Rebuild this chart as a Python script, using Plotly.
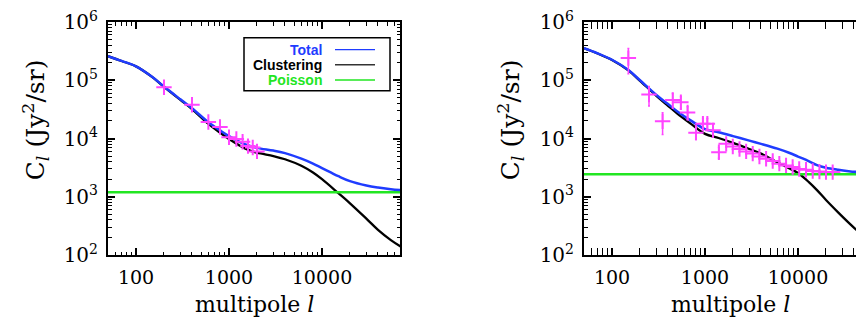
import numpy as np
import plotly.graph_objects as go

# ---------------- data ----------------
# Panel 1
ell_model_1 = [50, 70, 100, 150, 200, 300, 400, 600, 800, 1000, 1500, 2000, 3000, 4000,
               6000, 8000, 10000, 15000, 20000, 30000, 40000, 55000, 70000]
total_1 = [2.6e5, 2.15e5, 1.74e5, 1.14e5, 7.8e4, 4.7e4, 3.3e4, 1.9e4, 1.38e4, 1.1e4, 7.9e3, 6.9e3,
           6.2e3, 5.6e3, 4.5e3, 3.7e3, 3.1e3, 2.25e3, 1.85e3, 1.56e3, 1.44e3, 1.35e3, 1.3e3]
clustering_1 = [2.59e5, 2.14e5, 1.73e5, 1.13e5, 7.7e4, 4.6e4, 3.2e4, 1.78e4, 1.26e4, 9.8e3, 6.7e3,
                5.7e3, 5.0e3, 4.4e3, 3.4e3, 2.6e3, 2.0e3, 1.15e3, 770, 420, 270, 180, 140]
poisson_1 = 1.19e3
ell_data_1 = [200, 400, 600, 800, 1000, 1200, 1400, 1600, 1800, 2000]
cl_data_1 = [7.6e4, 3.8e4, 1.92e4, 1.58e4, 1.05e4, 9.8e3, 8.8e3, 7.4e3, 7.0e3, 6.0e3]

# Panel 2
ell_model_2 = [50, 70, 100, 150, 200, 300, 400, 500, 700, 1000, 1400, 2000, 3000, 4000, 6000,
               8000, 10000, 13000, 16000, 20000, 27000, 35000, 45000, 55000, 70000]
total_2 = [3.55e5, 2.9e5, 2.25e5, 1.5e5, 1.0e5, 5.6e4, 3.9e4, 2.95e4, 2.05e4, 1.45e4, 1.28e4,
           1.1e4, 9.2e3, 8.1e3, 6.7e3, 5.7e3, 4.9e3, 4.1e3, 3.5e3, 3.15e3, 2.9e3, 2.75e3,
           2.65e3, 2.6e3, 2.57e3]
clustering_2 = [3.53e5, 2.88e5, 2.23e5, 1.48e5, 9.8e4, 5.4e4, 3.65e4, 2.7e4, 1.8e4, 1.2e4,
                1.02e4, 8.4e3, 6.6e3, 5.5e3, 3.9e3, 3.1e3, 2.55e3, 1.8e3, 1.3e3, 880, 540,
                360, 250, 200, 150]
poisson_2 = 2.43e3
ell_data_2 = [150, 250, 350, 450, 550, 650, 800, 950, 1060, 1220, 1410,
              1690, 1990, 2350, 2770, 3260, 3850, 4540, 5350, 6300, 7440, 8760,
              10300, 12200, 14400, 17000, 20000, 23600]
cl_data_2 = [2.4e5, 5.7e4, 1.97e4, 4.6e4, 4.2e4, 2.8e4, 1.26e4, 1.8e4, 1.8e4, 1.38e4, 5.8e3,
             8.1e3, 7.3e3, 6.6e3, 6.0e3, 5.5e3, 4.9e3, 4.5e3, 4.1e3, 3.7e3, 3.45e3, 3.25e3,
             3.0e3, 2.9e3, 2.77e3, 2.7e3, 2.65e3, 2.65e3]
err_data_2 = [1.1e5, 2.1e4, 8e3, 1.3e4, 1.0e4, 7e3, 3e3, 4e3, 4e3, 3e3, 1.2e3,
              1.0e3, 8e2, 7e2, 6e2, 5e2, 4e2, 3.5e2, 3e2, 2.5e2, 2.2e2, 2e2,
              1.8e2, 1.6e2, 1.5e2, 1.4e2, 1.4e2, 1.4e2]

x_ticks = [100, 1000, 10000]
x_ticktext = ["100", "1000", "10000"]
y_ticks = [1e2, 1e3, 1e4, 1e5, 1e6]
y_ticktext = ["10<sup>2</sup>", "10<sup>3</sup>", "10<sup>4</sup>", "10<sup>5</sup>", "10<sup>6</sup>"]
legend_labels = ["Total", "Clustering", "Poisson"]

# ---------------- style ----------------
BLUE = "#1f3cff"
BLACK = "#000000"
GREEN = "#22e622"
MAGENTA = "#ff44ff"
SERIF = "DejaVu Serif"

W, H = 864, 320
ML, MR, MT, MB = 100, 0, 10, 73
PW = W - ML - MR
PH = H - MT - MB


def px(xp):
    return (xp - ML) / PW


def py(yp):
    return (H - MB - yp) / PH


fig = go.Figure()


def add_panel(xa, ya, ell, tot, clu, poi, ed, cd, err):
    fig.add_trace(go.Scatter(x=ell, y=clu, mode="lines", line=dict(color=BLACK, width=2.3, shape="spline"),
                             xaxis=xa, yaxis=ya, showlegend=False))
    fig.add_trace(go.Scatter(x=[ell[0], ell[-1]], y=[poi, poi], mode="lines",
                             line=dict(color=GREEN, width=2.5), xaxis=xa, yaxis=ya, showlegend=False))
    fig.add_trace(go.Scatter(x=ell, y=tot, mode="lines", line=dict(color=BLUE, width=2.5, shape="spline"),
                             xaxis=xa, yaxis=ya, showlegend=False))
    kw = {}
    if err is not None:
        kw["error_y"] = dict(type="data", array=err, color=MAGENTA, thickness=1.5, width=1)
    fig.add_trace(go.Scatter(x=ed, y=cd, mode="markers",
                             marker=dict(symbol="cross-thin", size=11, line=dict(color=MAGENTA, width=2)),
                             xaxis=xa, yaxis=ya, showlegend=False, **kw))


add_panel("x", "y", ell_model_1, total_1, clustering_1, poisson_1, ell_data_1, cl_data_1, None)
add_panel("x2", "y2", ell_model_2, total_2, clustering_2, poisson_2, ell_data_2, cl_data_2, err_data_2)

minor_x = [m * 10 ** k for k in range(1, 5) for m in range(2, 10)]
minor_y = [m * 10 ** k for k in range(2, 6) for m in range(2, 10)]
tickfont = dict(family=SERIF, size=19, color="black")

xcommon = dict(type="log", tickmode="array", tickvals=x_ticks, ticktext=x_ticktext,
               ticks="inside", ticklen=7, tickwidth=1.5, tickcolor="black",
               showline=True, linewidth=2, linecolor="black", mirror="allticks",
               showgrid=False, zeroline=False, tickfont=tickfont, ticklabelstandoff=4,
               ticklabeloverflow="allow",
               minor=dict(tickmode="array", tickvals=minor_x, ticks="inside", ticklen=3.5,
                          tickwidth=1, tickcolor="black", showgrid=False))
ycommon = dict(type="log", range=[1.9995, 6.0005], tickmode="array", tickvals=y_ticks, ticktext=y_ticktext,
               ticks="inside", ticklen=7, tickwidth=1.5, tickcolor="black",
               showline=True, linewidth=2, linecolor="black",
               showgrid=False, zeroline=False, tickfont=dict(family=SERIF, size=20, color="black"),
               ticklabelstandoff=4, ticklabeloverflow="allow",
               minor=dict(tickmode="array", tickvals=minor_y, ticks="inside", ticklen=3.5,
                          tickwidth=1, tickcolor="black", showgrid=False))

x0 = np.log10(50)
dec = 93.0
fig.update_layout(
    xaxis=dict(domain=[0, px(392)], range=[x0, x0 + 292 / dec], anchor="y", **xcommon),
    yaxis=dict(domain=[0, 1], anchor="x", mirror="allticks", **ycommon),
    xaxis2=dict(domain=[px(576), 1], range=[x0, x0 + 288 / dec], anchor="y2", **xcommon),
    yaxis2=dict(domain=[0, 1], anchor="x2", mirror=False, **ycommon),
)
y3 = dict(ycommon)
y3.update(showline=False, showticklabels=False)
fig.update_layout(yaxis3=dict(overlaying="y2", side="right", anchor="x2", **y3))
fig.add_trace(go.Scatter(x=[100], y=[1e3], mode="markers", marker=dict(opacity=0),
                         xaxis="x2", yaxis="y3", showlegend=False, hoverinfo="skip"))

annotations = []
shapes = []
for cx, tx in [(28, 246), (503, 722)]:
    annotations.append(dict(x=px(cx), y=py(110), xref="paper", yref="paper", textangle=-90,
                            text="C<sub><i>l</i></sub> (Jy<sup>2</sup>/sr)", showarrow=False,
                            font=dict(family=SERIF, size=25, color="black"),
                            xanchor="center", yanchor="middle"))
    annotations.append(dict(x=px(tx), y=py(297), xref="paper", yref="paper",
                            text="multipole <i>l</i>", showarrow=False,
                            font=dict(family=SERIF, size=22, color="black"),
                            xanchor="center", yanchor="middle"))

# legend box in panel 1
shapes.append(dict(type="rect", xref="paper", yref="paper", x0=px(236), x1=px(382), y0=py(80), y1=py(26),
                   line=dict(color="black", width=1.5), fillcolor="white", layer="above"))
for lab, col, yy in zip(legend_labels, [BLUE, BLACK, GREEN], [38, 53.5, 69]):
    annotations.append(dict(x=px(316), y=py(yy), xref="paper", yref="paper", text="<b>" + lab + "</b>",
                            showarrow=False, xanchor="right", yanchor="middle",
                            font=dict(family="Liberation Sans", size=14, color=col)))
    shapes.append(dict(type="line", xref="paper", yref="paper", x0=px(327), x1=px(367), y0=py(yy), y1=py(yy),
                       line=dict(color=col if col != BLACK else "#333333", width=1.3), layer="above"))

fig.update_layout(width=W, height=H, margin=dict(l=ML, r=MR, t=MT, b=MB, pad=0),
                  paper_bgcolor="white", plot_bgcolor="white",
                  annotations=annotations, shapes=shapes, showlegend=False)

fig.write_html("out.html")
